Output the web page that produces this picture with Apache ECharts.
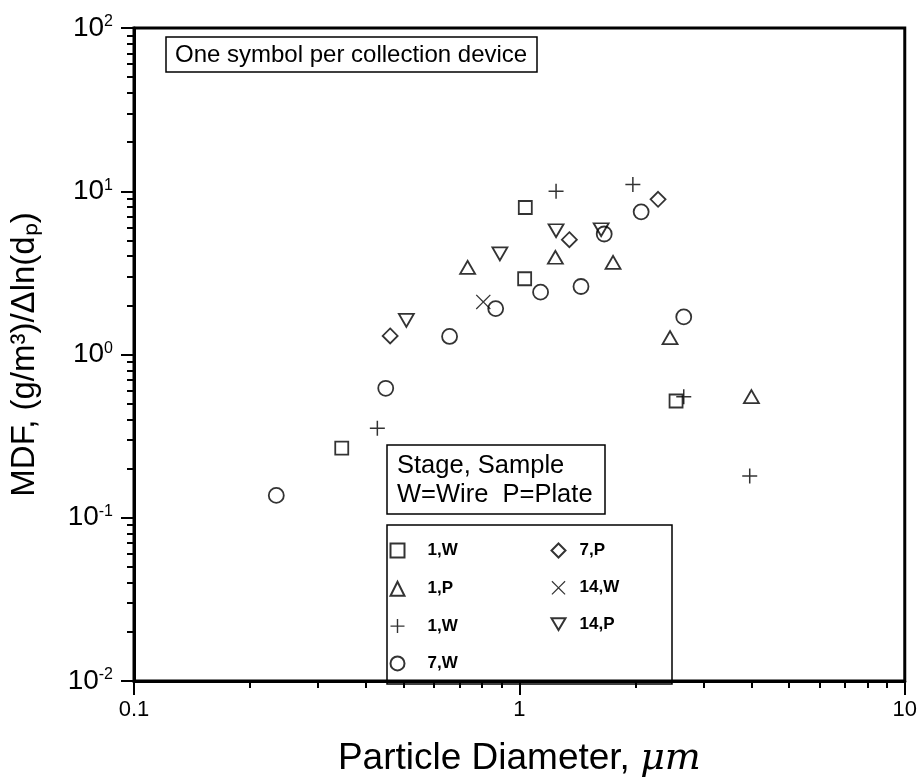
<!DOCTYPE html>
<html>
<head>
<meta charset="utf-8">
<script src="https://cdn.jsdelivr.net/npm/echarts@6/dist/echarts.min.js"></script>
<style>
html,body{margin:0;padding:0;background:#fff}
#chart{width:920px;height:783px}
</style>
</head>
<body>
<div id="chart"></div>
<script>
// [particle diameter (um), MDF] per collection device
const sq1W = [[0.346,0.267],[1.032,2.91],[1.036,7.95],[2.55,0.519]]
const tri1P = [[0.734,3.42],[1.24,3.94],[1.75,3.67],[2.46,1.27],[4.0,0.552]]
const plus1W = [[0.428,0.354],[1.245,10.0],[1.97,11.0],[2.67,0.552],[3.96,0.180]]
const circ7W = [[0.234,0.137],[0.450,0.621],[0.659,1.29],[0.868,1.91],[1.135,2.41],[1.445,2.61],[1.66,5.47],[2.07,7.48],[2.67,1.70]]
const dia7P = [[0.462,1.30],[1.348,5.05],[2.29,8.93]]
const x14W = [[0.806,2.10]]
const dtri14P = [[0.509,1.62],[0.890,4.13],[1.245,5.73],[1.63,5.81]]

const seriesIds = ['s1W','t1P','p1W','c7W','d7P','x14W','v14P']
const legendLabels = ['1,W','1,P','1,W','7,W','7,P','14,W','14,P']
const xTicks = [0.1,1,10]
const xTickLabels = ['0.1','1','10']
const yTicks = [0.01,0.1,1,10,100]
const yTickExps = ['-2','-1','0','1','2']

const PLUS = 'path://M9,0H11V9H20V11H11V20H9V11H0V9H9Z'
const CROSS = 'path://M0,1.2L1.2,0L10,8.8L18.8,0L20,1.2L11.2,10L20,18.8L18.8,20L10,11.2L1.2,20L0,18.8L8.8,10Z'
const DOWN = 'path://M0,0L20,0L10,17Z'
const FONT = '"Liberation Sans", Arial, sans-serif'

function minorTicks(lo, hi){
  let out = []
  for(let d = lo; d < hi; d *= 10){
    for(let k = 2; k <= 9; k++) out.push(+(d*k).toPrecision(3))
  }
  return out
}
function nearestIdx(arr, v){
  let best = 0
  arr.forEach((a,i)=>{ if(Math.abs(Math.log10(a)-Math.log10(v)) < Math.abs(Math.log10(arr[best])-Math.log10(v))) best = i })
  return best
}

const hollow = {color:'none', borderColor:'#000', borderWidth:1.8}
const solid = {color:'#000', borderWidth:0}

function mk(id, data, symbol, size, style){
  return {
    id, name:id, type:'scatter', data, symbol, symbolSize:size,
    itemStyle: style,
    emphasis:{disabled:true},
    xAxisIndex:0, yAxisIndex:0, z:5
  }
}

let myChart = echarts.init(document.getElementById('chart'), null, {renderer:'canvas'})

function legendAt(left, ids, pad){
  return {
    orient:'vertical', left, top:541, itemWidth:14, itemHeight:14, itemGap:19.3, padding:0,
    selectedMode:false, data:ids,
    formatter: n => '{t|' + legendLabels[seriesIds.indexOf(n)] + '}',
    textStyle:{
      color:'#000',
      rich:{t:{padding:[0,0,0,pad], fontSize:17, fontWeight:'bold', color:'#000',
        fontFamily:'"Liberation Sans Narrow", "Liberation Sans", Arial'}}
    }
  }
}

let option = {
  animation:false,
  backgroundColor:'#fff',
  grid:{left:132, right:12, top:28, bottom:99, show:true, borderColor:'#000', borderWidth:3},
  title:[
    {
      text:'One symbol per collection device', left:166, top:37,
      borderColor:'#000', borderWidth:1.5, padding:[6,10,5,9],
      textStyle:{fontSize:24, fontWeight:'normal', color:'#000', fontFamily:FONT}
    },
    {
      text:'Stage, Sample\nW=Wire  P=Plate', left:387, top:445,
      borderColor:'#000', borderWidth:1.5, padding:[6,13,5,10],
      textStyle:{fontSize:25.5, lineHeight:29, fontWeight:'normal', color:'#000', fontFamily:FONT}
    }
  ],
  legend:[
    legendAt(388, seriesIds.slice(0,4), 18),
    legendAt(549, seriesIds.slice(4), 9)
  ],
  graphic:[{
    type:'rect', z:10,
    shape:{x:387, y:525, width:285, height:159},
    style:{fill:'none', stroke:'#000', lineWidth:1.5}
  }],
  xAxis:[
    {
      type:'log', logBase:10, min:0.1, max:10, position:'bottom',
      axisLine:{lineStyle:{color:'#000', width:3}},
      axisTick:{customValues:minorTicks(0.1,10), length:7, lineStyle:{color:'#000', width:2}},
      axisLabel:{show:false}, splitLine:{show:false}
    },
    {
      type:'log', logBase:10, min:0.1, max:10, position:'bottom',
      axisLine:{show:false},
      axisTick:{customValues:xTicks, length:14, lineStyle:{color:'#000', width:2}},
      axisLabel:{
        customValues:xTicks, margin:18, fontSize:22, color:'#000', fontFamily:FONT,
        formatter:v => xTickLabels[nearestIdx(xTicks, v)]
      },
      splitLine:{show:false},
      name:'{a|Particle Diameter, }{m|μm}', nameLocation:'middle', nameGap:59,
      nameTextStyle:{rich:{
        a:{fontSize:37, color:'#000', fontFamily:FONT},
        m:{fontSize:38, color:'#000', fontStyle:'italic', fontFamily:'"DejaVu Serif", "Liberation Serif", serif'}
      }}
    }
  ],
  yAxis:[
    {
      type:'log', logBase:10, min:0.01, max:100, position:'left',
      axisLine:{lineStyle:{color:'#000', width:3}},
      axisTick:{customValues:minorTicks(0.01,100), length:7, lineStyle:{color:'#000', width:2}},
      axisLabel:{show:false}, splitLine:{show:false}
    },
    {
      type:'log', logBase:10, min:0.01, max:100, position:'left',
      axisLine:{show:false},
      axisTick:{customValues:yTicks, length:13, lineStyle:{color:'#000', width:2}},
      axisLabel:{
        customValues:yTicks, margin:21, color:'#000',
        formatter:v => '{b|10}{s|' + yTickExps[nearestIdx(yTicks, v)] + '}',
        rich:{
          b:{fontSize:28, color:'#000', fontFamily:FONT},
          s:{fontSize:16, color:'#000', fontFamily:FONT, verticalAlign:'top'}
        }
      },
      splitLine:{show:false},
      name:'MDF, (g/m³)/Δln(dₚ)', nameLocation:'middle', nameRotate:90, nameGap:93,
      nameTextStyle:{fontSize:33, color:'#000', fontFamily:FONT}
    }
  ],
  series:[
    mk('s1W', sq1W, 'rect', 13, hollow),
    mk('t1P', tri1P, 'triangle', [15,13], hollow),
    mk('p1W', plus1W, PLUS, 15, solid),
    mk('c7W', circ7W, 'circle', 15, hollow),
    mk('d7P', dia7P, 'diamond', 15, hollow),
    mk('x14W', x14W, CROSS, 15, solid),
    mk('v14P', dtri14P, DOWN, [15,13], hollow)
  ]
}

myChart.setOption(option)
</script>
</body>
</html>
